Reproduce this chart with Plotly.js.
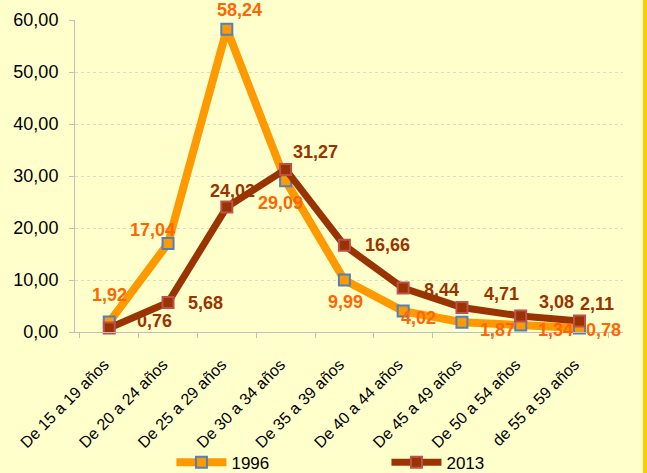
<!DOCTYPE html>
<html>
<head>
<meta charset="utf-8">
<script src="https://cdn.plot.ly/plotly-3.0.1.min.js"></script>
<style>
html,body{margin:0;padding:0;background:#FFCC00;}
#chart{width:643px;height:473px;}
</style>
</head>
<body>
<div id="chart"></div>
<script>
var categories = ["De 15 a 19 años","De 20 a 24 años","De 25 a 29 años","De 30 a 34 años","De 35 a 39 años","De 40 a 44 años","De 45 a 49 años","De 50 a 54 años","de 55 a 59 años"];
var values1996 = [1.92, 17.04, 58.24, 29.09, 9.99, 4.02, 1.87, 1.34, 0.78];
var values2013 = [0.76, 5.68, 24.02, 31.27, 16.66, 8.44, 4.71, 3.08, 2.11];
var seriesNames = ["1996", "2013"];

// label placement offsets in pixels (style only)
var offsets1996 = [[0,27],[-16,13],[13,19],[-5,-22],[1,-22],[15,-7],[36,-8],[35,-5],[24,-2]];
var offsets2013 = [[45,7],[37,-1],[6,16],[30,17],[43,0],[38,-2],[40,14],[36,14],[17,17]];

function fmt(v){ return v.toFixed(2).replace('.', ','); }

var FONT = 'Liberation Sans, Arial, sans-serif';

var trace1996 = {
  x: categories, y: values1996, name: seriesNames[0],
  type: 'scatter', mode: 'lines+markers',
  line: {color: '#FF9900', width: 8},
  marker: {symbol: 'square', size: 11, color: '#FF9900', line: {color: '#4F81BD', width: 2}},
  cliponaxis: false
};
var trace2013 = {
  x: categories, y: values2013, name: seriesNames[1],
  type: 'scatter', mode: 'lines+markers',
  line: {color: '#993300', width: 7},
  marker: {symbol: 'square', size: 11, color: '#993300', line: {color: '#C0504D', width: 2}},
  cliponaxis: false
};

function makeLabels(vals, offs, color){
  return vals.map(function(v, i){
    return {
      x: categories[i], y: v, xref: 'x', yref: 'y',
      text: '<b>' + fmt(v) + '</b>', showarrow: false,
      xshift: offs[i][0], yshift: offs[i][1],
      font: {family: FONT, size: 18, color: color}
    };
  });
}

var annotations = makeLabels(values1996, offsets1996, '#FF6600')
  .concat(makeLabels(values2013, offsets2013, '#993300'));

var layout = {
  width: 643, height: 473,
  margin: {l: 75, r: 20, t: 20, b: 141, autoexpand: false},
  paper_bgcolor: '#FFFFCC', plot_bgcolor: '#FFFFCC',
  font: {family: FONT, color: '#000000'},
  separators: ',.',
  showlegend: true,
  annotations: annotations,
  legend: {orientation: 'h', x: 0.176, xanchor: 'left', yref: 'container', y: 0.022, yanchor: 'middle',
           font: {size: 17, color: '#000'}, itemwidth: 50, entrywidth: 150, entrywidthmode: 'pixels',
           bgcolor: 'rgba(0,0,0,0)', traceorder: 'normal'},
  xaxis: {
    type: 'category', tickangle: -45, tickfont: {size: 16, color: '#000'},
    showline: true, linecolor: '#BFBFBF', linewidth: 1,
    ticks: 'outside', ticklen: 5, tickcolor: '#BFBFBF', tickson: 'boundaries',
    ticklabelstandoff: 16, ticklabelshift: -5, automargin: false,
    showgrid: false, zeroline: false, fixedrange: true
  },
  yaxis: {
    range: [0, 60], dtick: 10, tickformat: '.2f', tickfont: {size: 18, color: '#000'},
    showline: true, linecolor: '#BFBFBF', linewidth: 1,
    ticks: 'outside', ticklen: 5, tickcolor: '#BFBFBF',
    ticklabelstandoff: 7, automargin: false,
    showgrid: true, gridcolor: '#DCDCC8', griddash: 'dot', gridwidth: 1,
    zeroline: false, fixedrange: true
  }
};

Plotly.newPlot('chart', [trace1996, trace2013], layout, {displayModeBar: false, staticPlot: true});
</script>
</body>
</html>
